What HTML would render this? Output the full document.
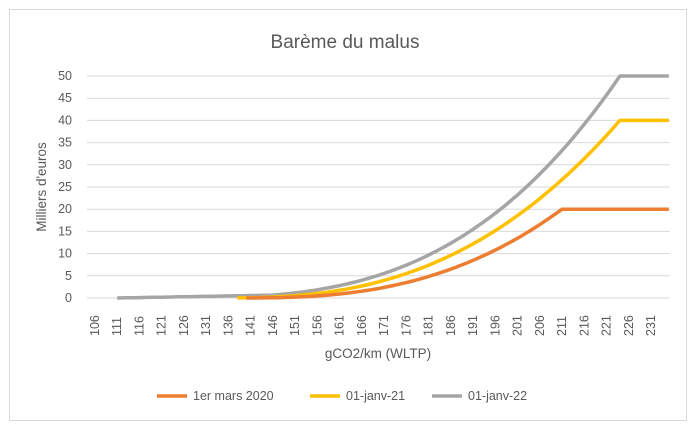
<!DOCTYPE html>
<html><head><meta charset="utf-8"><style>
body{margin:0;background:#fff;font-family:"Liberation Sans",Arial,sans-serif;}
svg text{font-family:"Liberation Sans",Arial,sans-serif;fill:#595959;}
</style></head><body>
<svg id="c" width="695" height="427" xmlns="http://www.w3.org/2000/svg">
<rect x="9.5" y="9.5" width="677" height="411" fill="#fff" stroke="#d9d9d9"/>
<text x="345" y="48" font-size="19" text-anchor="middle">Barème du malus</text>
<g id="grid"></g>
<text transform="translate(46,187) rotate(-90)" font-size="13.5" text-anchor="middle">Milliers d'euros</text>
<text x="378" y="358" font-size="13.5" text-anchor="middle">gCO2/km (WLTP)</text>
<g id="series"></g>
<line x1="157" y1="396" x2="187" y2="396" stroke="#ed7d31" stroke-width="3.5"/>
<text x="193" y="400" font-size="12.5">1er mars 2020</text>
<line x1="310" y1="396" x2="340" y2="396" stroke="#ffc000" stroke-width="3.5"/>
<text x="346" y="400" font-size="12.5">01-janv-21</text>
<line x1="432" y1="396" x2="462" y2="396" stroke="#a5a5a5" stroke-width="3.5"/>
<text x="468" y="400" font-size="12.5">01-janv-22</text>
</svg>
<script>
var ns="http://www.w3.org/2000/svg";
function el(t,a,p,txt){var e=document.createElementNS(ns,t);for(var k in a)e.setAttribute(k,a[k]);if(txt)e.textContent=txt;document.getElementById(p).appendChild(e);}
function Y(v){return 298-v*4.44;}
function X(g){return 95+(g-106)*4.448;}
for(var v=0;v<=50;v+=5){el('line',{x1:87,x2:670,y1:Y(v),y2:Y(v),stroke:'#d9d9d9','stroke-width':1},'grid');
el('text',{x:72,y:Y(v)+4,'font-size':12.5,'text-anchor':'end'},'grid',''+v);}
for(var g=106;g<=231;g+=5){var x=X(g);el('text',{transform:'translate('+(x+4)+',336) rotate(-90)','font-size':12.5},'grid',''+g);}
function s(g0,p,g1,cap,color,start,floor){
 var A=cap/Math.pow(g1-g0,p),d='';
 for(var g=start;g<=235;g++){var v=g<=g0?0:Math.min(cap,A*Math.pow(g-g0,p));if(floor&&g>=111)v=Math.max(v,floor*(g-111)/27);
 d+=(d?'L':'M')+X(g).toFixed(1)+','+Y(v).toFixed(1);}
 el('path',{d:d,fill:'none',stroke:color,'stroke-width':3.5,'stroke-linejoin':'round'},'series');}
s(122,3.0,224,50,'#a5a5a5',111,0.5);
s(134,2.6,224,40,'#ffc000',138);
s(138,2.68,211,20,'#ed7d31',140);
</script>
</body></html>
